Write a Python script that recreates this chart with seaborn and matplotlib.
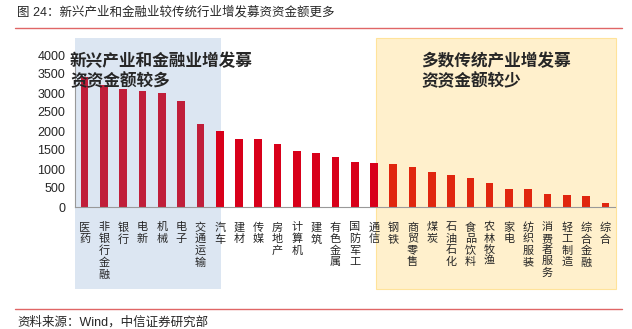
import matplotlib
matplotlib.use("Agg")
import matplotlib.pyplot as plt
import matplotlib.transforms as mtransforms
from matplotlib.patches import Rectangle
from matplotlib.lines import Line2D
import seaborn as sns
import pandas as pd

categories = ["医药", "非银行金融", "银行", "电新", "机械", "电子", "交通运输",
              "汽车", "建材", "传媒", "房地产", "计算机", "建筑", "有色金属", "国防军工", "通信",
              "钢铁", "商贸零售", "煤炭", "石油石化", "食品饮料", "农林牧渔", "家电",
              "纺织服装", "消费者服务", "轻工制造", "综合金融", "综合"]
values = [3410, 3210, 3100, 3050, 3000, 2790, 2190,
          2000, 1800, 1790, 1650, 1475, 1430, 1315, 1185, 1160,
          1140, 1045, 913, 842, 755, 632, 465,
          465, 334, 316, 281, 97]
groups = ["新兴"] * 7 + ["中间"] * 9 + ["传统"] * 12
title = "图 24：新兴产业和金融业较传统行业增发募资资金额更多"
source = "资料来源：Wind，中信证券研究部"
note_left = "新兴产业和金融业增发募\n资资金额较多"
note_right = "多数传统产业增发募\n资资金额较少"

sns.set_style("white")
plt.rcParams["font.family"] = ["Liberation Sans", "Noto Sans CJK SC", "DejaVu Sans"]

df = pd.DataFrame({"cat": categories, "val": values, "grp": groups})
palette = {"新兴": "#C01E3A", "中间": "#D8001A", "传统": "#E0260F"}

fig = plt.figure(figsize=(6.32, 3.29), dpi=100)
ax = fig.add_axes([75 / 632, 1 - 207 / 329, 540 / 632, 152 / 329])
ax.set_facecolor("none")

sns.barplot(data=df, x="cat", y="val", hue="grp", palette=palette, dodge=False,
            width=0.4, legend=False, ax=ax, linewidth=0, saturation=1, zorder=2)

ax.set_xlim(-0.5, len(categories) - 0.5)
ax.set_ylim(0, 4000)
ax.set_yticks(range(0, 4001, 500))
ax.set_xlabel("")
ax.set_ylabel("")

# background highlight boxes (x in data, y in figure coords)
bt = mtransforms.blended_transform_factory(ax.transData, fig.transFigure)
y0 = 1 - 289 / 329
y1 = 1 - 37.5 / 329
ax.add_patch(Rectangle((-0.5, y0), 7.57, y1 - y0, transform=bt, facecolor="#DCE6F2",
                       edgecolor="none", clip_on=False, zorder=0.5))
ax.add_patch(Rectangle((15.1, y0), 12.47, y1 - y0, transform=bt, facecolor="#FFF0CC",
                       edgecolor="#FFE39A", linewidth=0.8, clip_on=False, zorder=0.5))

# ticks
ax.set_xticks(range(len(categories)))
ax.set_xticklabels(["\n".join(c) for c in categories], fontsize=8,
                   family=["Noto Sans CJK SC"], linespacing=1.17, va="top")
ax.set_xticks([i - 0.5 for i in range(len(categories) + 1)], minor=True)
ax.tick_params(axis="x", which="major", length=0, pad=11)
ax.tick_params(axis="x", which="minor", length=4, width=0.8, color="#999999", direction="out")
ax.tick_params(axis="y", length=4, width=0.8, color="#999999", direction="out",
               labelsize=9, pad=3)

for s in ["top", "right"]:
    ax.spines[s].set_visible(False)
for s in ["left", "bottom"]:
    ax.spines[s].set_color("#999999")
    ax.spines[s].set_linewidth(0.8)

# annotations
fig.text(70 / 632, 1 - 71.5 / 329, note_left, fontsize=12, fontweight="bold",
         family=["Noto Sans CJK SC"], va="center", ha="left", linespacing=1.15, zorder=5)
fig.text(421 / 632, 1 - 71.5 / 329, note_right, fontsize=12, fontweight="bold",
         family=["Noto Sans CJK SC"], va="center", ha="left", linespacing=1.15, zorder=5)

# title and source
fig.text(17 / 632, 1 - 12 / 329, title, fontsize=9, va="center", ha="left")
fig.add_artist(Line2D([15 / 632, 622 / 632], [1 - 28 / 329, 1 - 28 / 329],
                      transform=fig.transFigure, color="#E06666", linewidth=1))
fig.add_artist(Line2D([15 / 632, 622 / 632], [1 - 309 / 329, 1 - 309 / 329],
                      transform=fig.transFigure, color="#E06666", linewidth=1))
fig.text(17 / 632, 1 - 322 / 329, source, fontsize=9, va="center", ha="left")

fig.savefig("out.png", dpi=100)
